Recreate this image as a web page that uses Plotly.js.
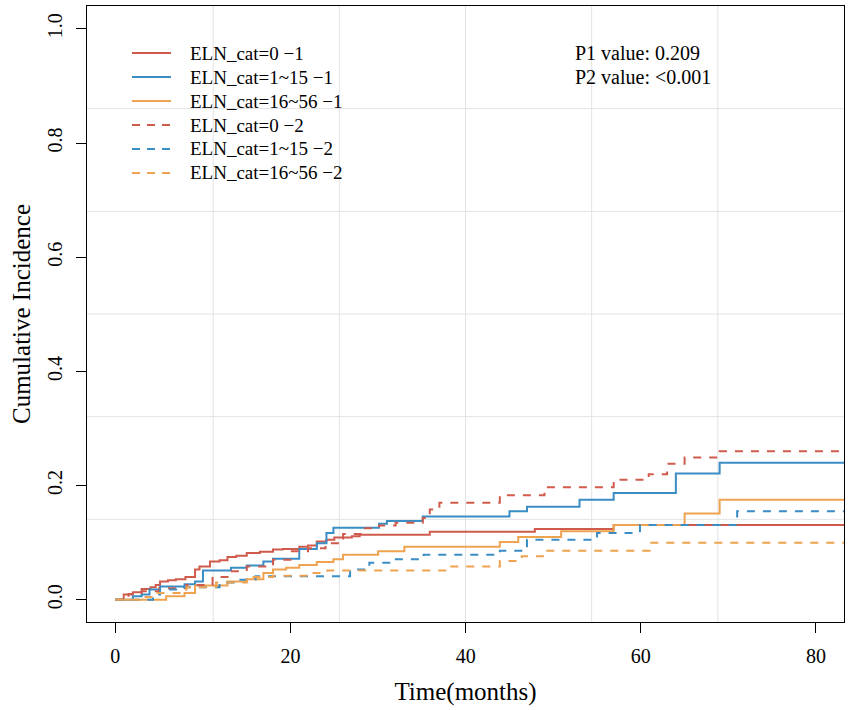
<!DOCTYPE html>
<html>
<head>
<meta charset="utf-8">
<script src="https://cdn.plot.ly/plotly-3.0.1.min.js"></script>
<style>html,body{margin:0;padding:0;background:#fff;}#chart{width:851px;height:710px;}</style>
</head>
<body>
<div id="chart"></div>
<script>
// ---- data (step functions: value holds after each time) ----
var seriesNames = ["ELN_cat=0 \u22121", "ELN_cat=1~15 \u22121", "ELN_cat=16~56 \u22121",
                   "ELN_cat=0 \u22122", "ELN_cat=1~15 \u22122", "ELN_cat=16~56 \u22122"];
var endTime = 83.5;

var t_eln0_1 = [0, 0.95, 2.0, 3.0, 4.0, 4.6, 5.1, 6.0, 6.9, 8.0, 9.1, 9.6, 10.8, 11.9, 12.8, 13.8, 15.0, 16.5, 18.0, 19.1, 21.0, 22.0, 23.0, 24.1, 25.0, 27.0, 27.9, 35.9, 47.9, 56.9];
var v_eln0_1 = [0, 0.009, 0.013, 0.019, 0.022, 0.026, 0.032, 0.034, 0.036, 0.040, 0.053, 0.058, 0.067, 0.069, 0.075, 0.077, 0.082, 0.084, 0.088, 0.089, 0.093, 0.095, 0.102, 0.105, 0.109, 0.111, 0.114, 0.119, 0.124, 0.131];

var t_eln1_1 = [0, 2.0, 3.0, 3.9, 5.1, 7.9, 9.1, 10.0, 13.2, 15.0, 16.9, 18.0, 21.0, 23.0, 24.1, 24.9, 30.1, 31.0, 35.1, 45.0, 47.0, 53.0, 56.9, 64.0, 69.0];
var v_eln1_1 = [0, 0.006, 0.009, 0.018, 0.023, 0.027, 0.032, 0.051, 0.056, 0.060, 0.067, 0.072, 0.089, 0.099, 0.117, 0.126, 0.133, 0.138, 0.146, 0.155, 0.163, 0.175, 0.187, 0.221, 0.240];

var t_eln16_1 = [0, 5.8, 7.9, 9.1, 12.8, 15.0, 16.9, 18.0, 19.5, 21.0, 23.0, 24.9, 26.0, 30.0, 33.0, 43.9, 46.0, 50.9, 56.9, 65.0, 69.0];
var v_eln16_1 = [0, 0.006, 0.012, 0.025, 0.032, 0.036, 0.047, 0.053, 0.056, 0.061, 0.066, 0.071, 0.079, 0.085, 0.093, 0.101, 0.110, 0.120, 0.131, 0.151, 0.175];

var t_eln0_2 = [0, 1.5, 3.0, 5.0, 8.1, 11.1, 13.0, 15.0, 18.0, 20.0, 22.0, 24.0, 26.0, 28.0, 30.1, 32.0, 35.1, 35.9, 37.0, 43.9, 49.0, 56.9, 60.9, 63.0, 65.0, 69.0];
var v_eln0_2 = [0, 0.010, 0.015, 0.020, 0.026, 0.040, 0.050, 0.058, 0.070, 0.085, 0.090, 0.099, 0.115, 0.125, 0.130, 0.135, 0.143, 0.158, 0.170, 0.183, 0.197, 0.210, 0.220, 0.238, 0.249, 0.260];

var t_eln1_2 = [0, 4.3, 5.1, 7.5, 11.9, 13.5, 16.0, 26.8, 29.0, 31.5, 35.2, 43.9, 47.0, 55.0, 59.9, 71.0];
var v_eln1_2 = [0, 0.009, 0.018, 0.022, 0.030, 0.035, 0.041, 0.053, 0.065, 0.071, 0.079, 0.086, 0.105, 0.117, 0.131, 0.155];

var t_eln16_2 = [0, 3.0, 4.8, 8.1, 11.5, 15.0, 18.0, 22.0, 24.2, 38.0, 43.9, 46.4, 48.8, 61.0];
var v_eln16_2 = [0, 0.005, 0.012, 0.022, 0.030, 0.040, 0.042, 0.047, 0.051, 0.058, 0.068, 0.076, 0.086, 0.100];

var pTexts = ["P1 value: 0.209", "P2 value: <0.001"];
var xTickVals = [0, 20, 40, 60, 80];
var yTickVals = [0, 0.2, 0.4, 0.6, 0.8, 1.0];

// ---- styling ----
var colors = ["#CF5B4D", "#3A8DC5", "#EFA250", "#CF5B4D", "#3A8DC5", "#EFA250"];
var dashes = ["solid", "solid", "solid", "8px,8px", "8px,8px", "8px,8px"];
var font = "Liberation Serif, Times New Roman, serif";

var W = 851, H = 710;
var M = {l: 87, r: 7, t: 6, b: 88};
var plotW = W - M.l - M.r, plotH = H - M.t - M.b;
function pxToPaperX(px) { return (px - M.l) / plotW; }
function pxToPaperY(py) { return (H - M.b - py) / plotH; }

var allT = [t_eln0_1, t_eln1_1, t_eln16_1, t_eln0_2, t_eln1_2, t_eln16_2];
var allV = [v_eln0_1, v_eln1_1, v_eln16_1, v_eln0_2, v_eln1_2, v_eln16_2];

var traces = allT.map(function (t, i) {
  var v = allV[i];
  return {
    x: t.concat([endTime]),
    y: v.concat([v[v.length - 1]]),
    type: "scatter",
    mode: "lines",
    name: seriesNames[i],
    showlegend: false,
    line: {shape: "hv", color: colors[i], width: 2, dash: dashes[i]},
    hoverinfo: "x+y+name"
  };
});

// grid like R's grid(6, 6): equally spaced in the plotting region
var shapes = [];
for (var k = 1; k < 6; k++) {
  shapes.push({type: "line", xref: "paper", yref: "paper", x0: k / 6, x1: k / 6, y0: 0, y1: 1,
               line: {color: "#e3e3e3", width: 1}, layer: "below"});
  shapes.push({type: "line", xref: "paper", yref: "paper", x0: 0, x1: 1, y0: k / 6, y1: k / 6,
               line: {color: "#e3e3e3", width: 1}, layer: "below"});
}

var annotations = pTexts.map(function (s, i) {
  return {text: s, xref: "paper", yref: "paper", x: pxToPaperX(573), y: pxToPaperY(53 + i * 24),
          xanchor: "left", yanchor: "middle", showarrow: false,
          font: {family: font, size: 20, color: "#000"}};
});

// legend drawn like R's legend(): line sample + label, fixed row spacing
var legX0 = 132, legLineLen = 39, legTextX = 188, legRow0 = 53, legRowStep = 24;
seriesNames.forEach(function (name, i) {
  var py = legRow0 + i * legRowStep;
  shapes.push({type: "line", xref: "paper", yref: "paper",
               x0: pxToPaperX(legX0), x1: pxToPaperX(legX0 + legLineLen),
               y0: pxToPaperY(py), y1: pxToPaperY(py),
               line: {color: colors[i], width: 2, dash: dashes[i] === "solid" ? "solid" : "8px,7px"}});
  annotations.push({text: name, xref: "paper", yref: "paper", x: pxToPaperX(legTextX), y: pxToPaperY(py),
                    xanchor: "left", yanchor: "middle", showarrow: false,
                    font: {family: font, size: 19, color: "#000"}});
});

var axisCommon = {
  ticks: "outside", ticklen: 10, tickwidth: 1, tickcolor: "#000",
  showline: true, mirror: true, linecolor: "#000", linewidth: 1,
  showgrid: false, zeroline: false,
  tickfont: {family: font, size: 20, color: "#000"}
};

var layout = {
  width: W, height: H,
  margin: {l: M.l, r: M.r, t: M.t, b: M.b, pad: 0},
  paper_bgcolor: "#fff", plot_bgcolor: "#fff",
  font: {family: font, color: "#000"},
  xaxis: Object.assign({}, axisCommon, {
    range: [-3.24, 83.2], tickvals: xTickVals, ticktext: xTickVals.map(String),
    ticklabelstandoff: 6,
    title: {text: "Time(months)", font: {family: font, size: 25, color: "#000"}, standoff: 16}
  }),
  yaxis: Object.assign({}, axisCommon, {
    range: [-0.039, 1.040], tickvals: yTickVals, ticktext: yTickVals.map(function (v) { return v.toFixed(1); }),
    tickangle: -90, ticklabelstandoff: 6,
    title: {text: "Cumulative Incidence", font: {family: font, size: 25, color: "#000"}, standoff: 6}
  }),
  shapes: shapes,
  annotations: annotations,
  showlegend: false
};

Plotly.newPlot("chart", traces, layout, {displayModeBar: false, staticPlot: true});
</script>
</body>
</html>
